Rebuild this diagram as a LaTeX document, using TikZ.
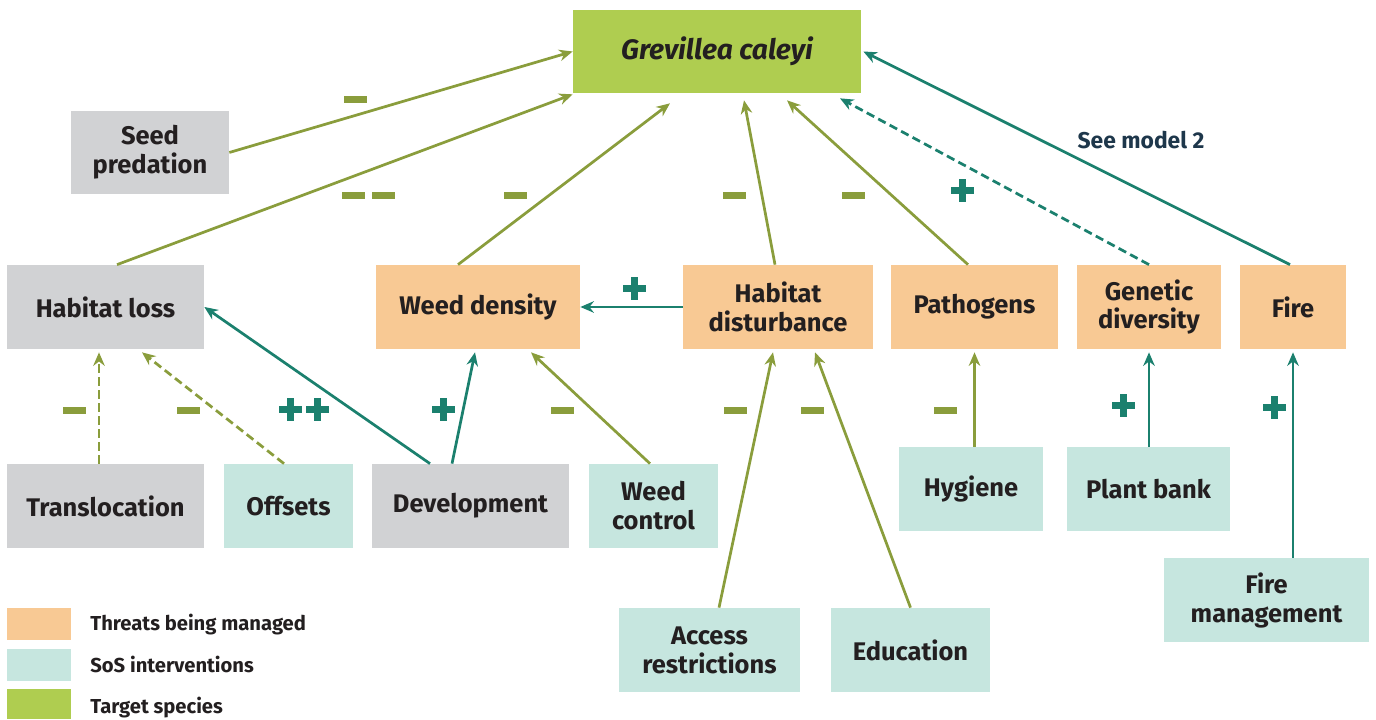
\documentclass[tikz,border=0pt]{standalone}
\usepackage{fontspec}
\setmainfont{Fira Sans}
\usepackage{tikz}
\usetikzlibrary{arrows.meta, positioning, calc}
\definecolor{myolive}{RGB}{138,157,60}
\definecolor{myteal}{RGB}{27,128,110}
\definecolor{mydark}{RGB}{35,31,32}
\definecolor{mynavy}{RGB}{30,55,75}
\definecolor{hdrgrey}{RGB}{209,210,212}
\definecolor{hdrorange}{RGB}{248,201,148}
\definecolor{hdrmint}{RGB}{198,230,223}
\definecolor{hdrlime}{RGB}{175,205,80}
\tikzset{
  block/.style={rectangle, align=center, inner sep=0pt,
    minimum height=1.68cm, text=mydark,
    font=\fontsize{14.5}{16.5}\selectfont\bfseries},
  greyblock/.style={block, fill=hdrgrey},
  threatblock/.style={block, fill=hdrorange},
  sosblock/.style={block, fill=hdrmint},
  targetblock/.style={block, fill=hdrlime, minimum height=1.66cm,
    font=\fontsize{16}{19}\selectfont\bfseries\itshape},
  keybox/.style={rectangle, minimum width=1.28cm, minimum height=0.64cm, inner sep=0pt},
  keytext/.style={anchor=base west, inner sep=0pt, text=mydark,
    font=\fontsize{11.5}{13}\selectfont\bfseries},
  seetext/.style={inner sep=0pt, text=mynavy, font=\fontsize{13}{15}\selectfont\bfseries},
  arrow/.style={-{Stealth[length=0.27cm, width=0.23cm]}, line width=1.55pt, color=myolive},
  tealarrow/.style={arrow, color=myteal},
  dashline/.style={dash pattern=on 4.8pt off 2.6pt},
  negsign/.pic={\fill[myolive] (-0.23,-0.07) rectangle (0.23,0.07);},
  possign/.pic={\fill[myteal] (-0.23,-0.07) rectangle (0.23,0.07);
    \fill[myteal] (-0.07,-0.23) rectangle (0.07,0.23);}
}

\begin{document}
\begin{tikzpicture}
  \useasboundingbox (0,0) rectangle (27.52,14.38);

  % Target species
  \node[targetblock, minimum width=5.76cm] (grev) at (14.34,13.35) {Grevillea caleyi};
  \node[greyblock, minimum width=3.16cm, minimum height=1.66cm] (seedpred) at (3.00,11.33) {Seed\\predation};

  % Threats row
  \node[greyblock, minimum width=3.94cm] (hloss) at (2.11,8.24) {Habitat loss};
  \node[threatblock, minimum width=4.08cm] (wdens) at (9.56,8.24) {Weed density};
  \node[threatblock, minimum width=3.80cm] (hdist) at (15.56,8.24) {Habitat\\disturbance};
  \node[threatblock, minimum width=3.34cm] (path) at (19.49,8.24) {Pathogens};
  \node[threatblock, minimum width=2.88cm] (gendiv) at (22.98,8.24) {Genetic\\diversity};
  \node[threatblock, minimum width=2.12cm] (fire) at (25.86,8.24) {Fire};

  % Interventions
  \node[greyblock, minimum width=3.94cm] (transl) at (2.11,4.26) {Translocation};
  \node[sosblock, minimum width=2.58cm] (offsets) at (5.77,4.26) {Offsets};
  \node[greyblock, minimum width=3.94cm] (devel) at (9.41,4.26) {Development};
  \node[sosblock, minimum width=2.58cm] (wcontrol) at (13.07,4.26) {Weed\\control};
  \node[sosblock, minimum width=2.88cm] (hygiene) at (19.42,4.60) {Hygiene};
  \node[sosblock, minimum width=3.26cm] (pbank) at (22.97,4.60) {Plant bank};
  \node[sosblock, minimum width=4.10cm] (firemgmt) at (25.33,2.38) {Fire\\management};
  \node[sosblock, minimum width=3.62cm] (access) at (14.19,1.38) {Access\\restrictions};
  \node[sosblock, minimum width=3.18cm] (educ) at (18.21,1.38) {Education};

  % Arrows into the target
  \draw[arrow] (seedpred.east) -- (grev.west);
  \draw[arrow] ([xshift=0.23cm]hloss.north) -- ([yshift=-0.02cm]grev.south west);
  \draw[arrow] ([xshift=-0.40cm]wdens.north) -- ([xshift=-0.94cm,yshift=-0.20cm]grev.south);
  \draw[arrow] ([xshift=-0.06cm]hdist.north) -- ([xshift=0.54cm,yshift=-0.14cm]grev.south);
  \draw[arrow] ([xshift=-0.13cm]path.north) -- ([xshift=1.40cm,yshift=-0.14cm]grev.south);
  \draw[tealarrow, dashline] (gendiv.north) -- ([xshift=2.46cm,yshift=-0.10cm]grev.south);
  \draw[tealarrow] ([xshift=-0.06cm]fire.north) -- ([xshift=0.04cm]grev.east);
  \node[seetext] (seemodel) at (22.82,11.58) {See model 2};

  % Arrows into the threats
  \draw[tealarrow] (hdist.west) -- (wdens.east);
  \draw[tealarrow] ([xshift=-0.81cm]devel.north) -- (hloss.east);
  \draw[tealarrow] ([xshift=-0.37cm]devel.north) -- ([xshift=-0.06cm,yshift=-0.06cm]wdens.south);
  \draw[arrow] ([xshift=-0.07cm]wcontrol.north) -- ([xshift=1.06cm,yshift=-0.06cm]wdens.south);
  \draw[arrow, dashline] ([xshift=-0.13cm]transl.north) -- ([xshift=-0.13cm,yshift=-0.06cm]hloss.south);
  \draw[arrow, dashline] ([xshift=-0.09cm]offsets.north) -- ([xshift=0.73cm,yshift=-0.06cm]hloss.south);
  \draw[arrow] ([xshift=0.19cm]access.north) -- ([xshift=-0.10cm,yshift=-0.06cm]hdist.south);
  \draw[arrow] (educ.north) -- ([xshift=0.74cm,yshift=-0.06cm]hdist.south);
  \draw[arrow] (hygiene.north -| path.south) -- ([yshift=-0.06cm]path.south);
  \draw[tealarrow] (pbank.north -| gendiv.south) -- ([yshift=-0.06cm]gendiv.south);
  \draw[tealarrow] (firemgmt.north -| fire.south) -- ([yshift=-0.06cm]fire.south);

  % Signs
  \pic at (7.10,12.39) {negsign};
  \pic at (7.07,10.46) {negsign};
  \pic at (7.67,10.46) {negsign};
  \pic at (10.30,10.46) {negsign};
  \pic at (14.68,10.46) {negsign};
  \pic at (17.06,10.46) {negsign};
  \pic at (19.24,10.56) {possign};
  \pic at (12.68,8.60) {possign};
  \pic at (1.48,6.16) {negsign};
  \pic at (3.76,6.16) {negsign};
  \pic at (5.81,6.18) {possign};
  \pic at (6.35,6.18) {possign};
  \pic at (8.86,6.18) {possign};
  \pic at (11.24,6.16) {negsign};
  \pic at (14.70,6.16) {negsign};
  \pic at (16.24,6.16) {negsign};
  \pic at (18.90,6.16) {negsign};
  \pic at (22.46,6.26) {possign};
  \pic at (25.48,6.22) {possign};

  % Key
  \node[keybox, fill=hdrorange] (keythreat) at (0.78,1.90) {};
  \node[keybox, fill=hdrmint] (keysos) at (0.78,1.08) {};
  \node[keybox, fill=hdrlime, minimum height=0.60cm] (keytarget) at (0.78,0.30) {};
  \node[keytext] (keythreattxt) at (1.80,1.76) {Threats being managed};
  \node[keytext] (keysostxt) at (1.80,0.92) {SoS interventions};
  \node[keytext] (keytargettxt) at (1.80,0.10) {Target species};
\end{tikzpicture}
\end{document}
